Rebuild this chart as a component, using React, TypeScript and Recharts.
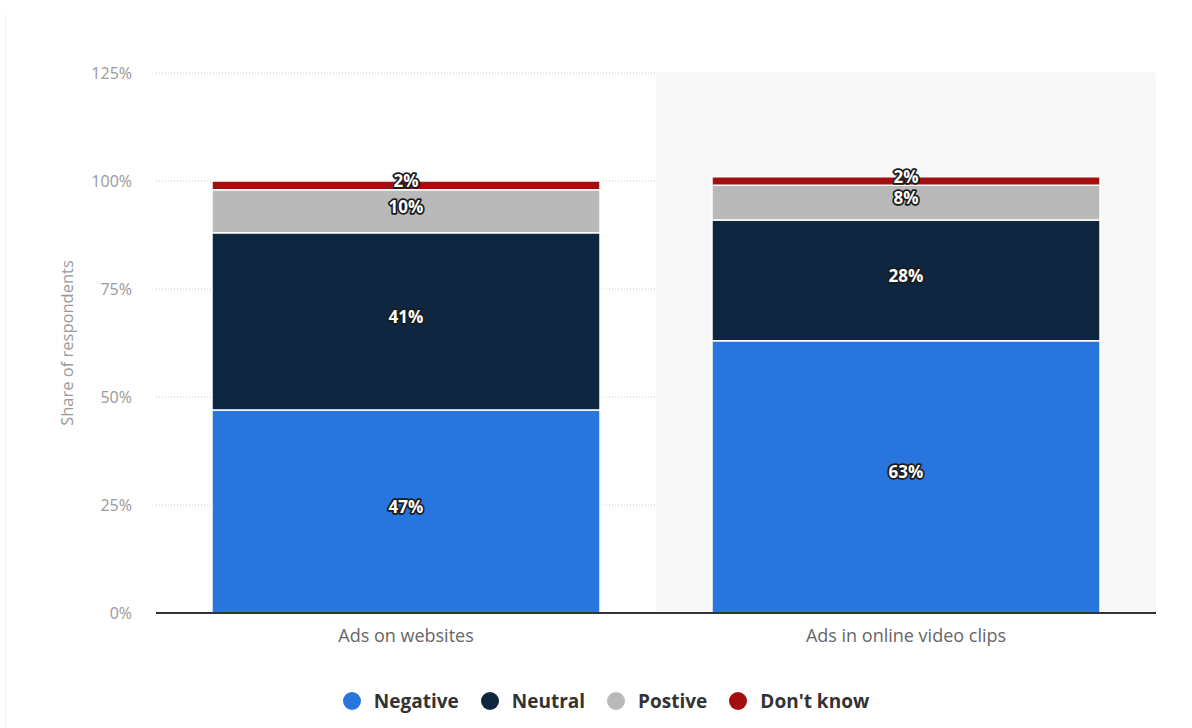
import React from "react";
import {
  BarChart,
  Bar,
  XAxis,
  YAxis,
  CartesianGrid,
  Legend,
  LabelList,
  ReferenceArea,
  Label,
} from "recharts";

const categories = ["Ads on websites", "Ads in online video clips"];
const negative = [47, 63];
const neutral = [41, 28];
const positive = [10, 8];
const dontKnow = [2, 2];
const yTicks = [0, 25, 50, 75, 100, 125];

const seriesDefs = [
  { key: "negative", name: "Negative", color: "#2876dd" },
  { key: "neutral", name: "Neutral", color: "#0f2640" },
  { key: "positive", name: "Postive", color: "#b9b9b9" },
  { key: "dontKnow", name: "Don't know", color: "#a50e0e" },
];

const data = categories.map((c, i) => ({
  category: c,
  negative: negative[i],
  neutral: neutral[i],
  positive: positive[i],
  dontKnow: dontKnow[i],
}));

const FONT = "'Open Sans', 'DejaVu Sans', sans-serif";

const renderValueLabel = (props: any) => {
  const { x, y, width, height, value } = props;
  const cx = Number(x) + Number(width) / 2;
  const cy = Number(y) + Number(height) / 2 - 3;
  return (
    <text
      x={cx}
      y={cy}
      textAnchor="middle"
      dominantBaseline="middle"
      fill="#ffffff"
      stroke="#1a1a1a"
      strokeWidth={3.5}
      strokeLinejoin="round"
      paintOrder="stroke"
      fontFamily={FONT}
      fontWeight={700}
      fontSize={17}
    >
      {`${value}%`}
    </text>
  );
};

const renderLegend = () => (
  <div
    style={{
      display: "flex",
      justifyContent: "center",
      alignItems: "center",
      width: 1192,
      paddingLeft: 20,
      boxSizing: "border-box",
      fontFamily: FONT,
    }}
  >
    {seriesDefs.map((s) => (
      <div
        key={s.key}
        style={{ display: "flex", alignItems: "center", margin: "0 11px" }}
      >
        <span
          style={{
            display: "inline-block",
            width: 18,
            height: 18,
            borderRadius: "50%",
            background: s.color,
            marginRight: 13,
          }}
        />
        <span style={{ fontSize: 19, fontWeight: 700, color: "#333", lineHeight: "26px" }}>
          {s.name}
        </span>
      </div>
    ))}
  </div>
);

const renderYLabel = (props: any) => {
  const vb = props.viewBox || {};
  const cx = 69;
  const cy = Number(vb.y) + Number(vb.height) / 2;
  return (
    <text
      x={cx}
      y={cy}
      transform={`rotate(-90, ${cx}, ${cy})`}
      textAnchor="middle"
      dominantBaseline="middle"
      fill="#999"
      fontFamily={FONT}
      fontSize={16.5}
    >
      Share of respondents
    </text>
  );
};

export default function App() {
  return (
    <div
      style={{
        position: "fixed",
        left: 0,
        top: 0,
        width: 1192,
        height: 728,
        background: "#fff",
      }}
    >
      <div
        style={{
          position: "absolute",
          left: 5,
          top: 14,
          width: 1,
          height: 714,
          background: "#f0f0f0",
        }}
      />
      <BarChart
        width={1192}
        height={728}
        data={data}
        margin={{ top: 73, right: 36, left: 0, bottom: 49 }}
        barCategoryGap="11.2%"
      >
        <ReferenceArea
          x1={categories[1]}
          x2={categories[1]}
          fill="#f8f8f8"
          fillOpacity={1}
          stroke="none"
          ifOverflow="extendDomain"
        />
        <CartesianGrid
          vertical={false}
          stroke="#c8c8c8"
          strokeDasharray="1 2"
        />
        <XAxis
          dataKey="category"
          axisLine={{ stroke: "#333", strokeWidth: 2 }}
          tickLine={false}
          tick={{ fill: "#666", fontSize: 18, fontFamily: FONT }}
          tickMargin={10}
          height={40}
        />
        <YAxis
          domain={[0, 125]}
          ticks={yTicks}
          tickFormatter={(v: number) => `${v}%`}
          axisLine={false}
          tickLine={false}
          tickSize={0}
          tickMargin={24}
          width={156}
          tick={{ fill: "#999", fontSize: 16, fontFamily: FONT }}
          interval={0}
        >
          <Label content={renderYLabel} />
        </YAxis>
        <Legend verticalAlign="bottom" content={renderLegend} wrapperStyle={{ left: 0, width: 1192, bottom: 14 }} />
        {seriesDefs.map((s) => (
          <Bar
            key={s.key}
            dataKey={s.key}
            name={s.name}
            stackId="a"
            fill={s.color}
            stroke="#ffffff"
            strokeWidth={1.5}
            isAnimationActive={false}
          >
            <LabelList dataKey={s.key} content={renderValueLabel} />
          </Bar>
        ))}
      </BarChart>
    </div>
  );
}
